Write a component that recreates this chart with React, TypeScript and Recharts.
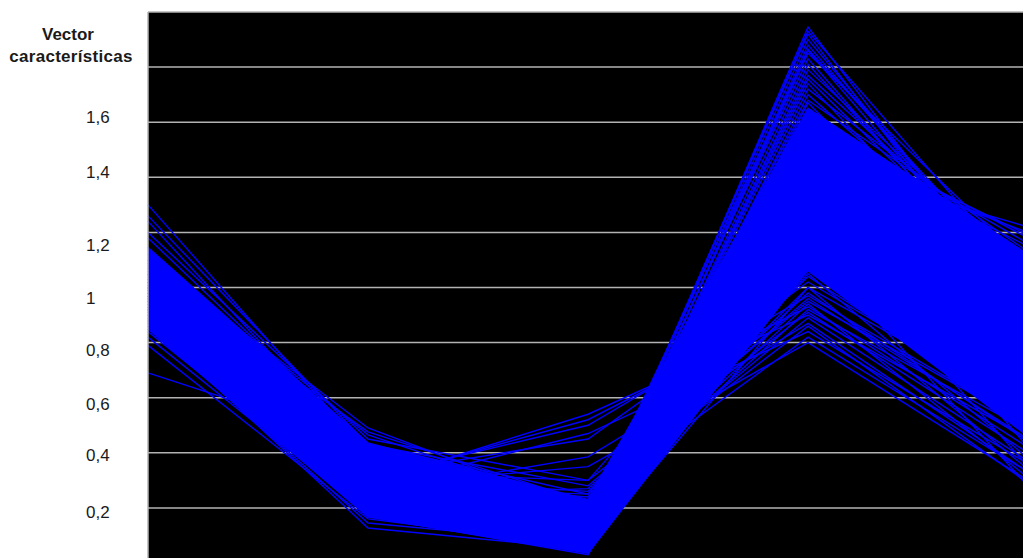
import { ComposedChart, Line, Area, XAxis, YAxis, CartesianGrid } from "recharts";

// five feature positions of the vector
const positions = [0, 1, 2, 3, 4];
const yTicks = [0, 0.2, 0.4, 0.6, 0.8, 1, 1.2, 1.4, 1.6, 1.8, 2];
const labelled = [0.2, 0.4, 0.6, 0.8, 1, 1.2, 1.4, 1.6];

// dense core of the bundle (where the lines overlap completely)
const coreLow = [0.85, 0.167, 0.036, 1.065, 0.46];
const coreHigh = [1.145, 0.436, 0.23, 1.65, 1.12];

// individual vectors that stand out of the core
const vectors: number[][] = [
  [1.3, 0.4, 0.2, 1.4, 0.8],
  [1.26, 0.43, 0.25, 1.3, 0.75],
  [1.24, 0.38, 0.18, 1.55, 0.95],
  [1.2, 0.45, 0.3, 1.2, 0.7],
  [1.18, 0.42, 0.22, 1.6, 1.0],
  [0.84, 0.2, 0.1, 1.1, 0.6],
  [0.82, 0.18, 0.08, 1.25, 0.65],
  [0.79, 0.16, 0.06, 1.0, 0.55],
  [0.69, 0.43, 0.28, 0.95, 0.5],
  [1.1, 0.49, 0.19, 1.45, 0.85],
  [1.05, 0.476, 0.22, 1.35, 0.8],
  [1.12, 0.465, 0.2, 1.5, 1.05],
  [0.95, 0.29, 0.54, 0.9, 0.45],
  [0.92, 0.3, 0.52, 0.93, 0.42],
  [0.98, 0.31, 0.5, 0.97, 0.5],
  [0.9, 0.27, 0.47, 0.84, 0.36],
  [1.0, 0.32, 0.45, 1.02, 0.55],
  [0.93, 0.25, 0.385, 0.87, 0.33],
  [0.97, 0.28, 0.35, 0.8, 0.3],
  [1.02, 0.33, 0.3, 0.91, 0.4],
  [0.88, 0.24, 0.27, 0.96, 0.45],
  [0.99, 0.26, 0.24, 1.04, 0.52],
  [0.86, 0.145, 0.07, 1.3, 0.75],
  [0.87, 0.127, 0.05, 1.2, 0.7],
  [0.88, 0.17, 0.03, 1.4, 0.9],
  [1.0, 0.25, 0.11, 1.945, 0.9],
  [1.05, 0.3, 0.12, 1.9, 0.95],
  [0.95, 0.22, 0.1, 1.865, 1.0],
  [1.1, 0.35, 0.14, 1.83, 0.92],
  [0.92, 0.2, 0.09, 1.79, 1.05],
  [1.02, 0.28, 0.13, 1.756, 0.98],
  [0.98, 0.23, 0.15, 1.72, 1.1],
  [1.07, 0.33, 0.11, 1.67, 0.88],
  [1.03, 0.31, 0.16, 1.5, 1.2],
  [0.96, 0.24, 0.12, 1.6, 1.18],
  [1.09, 0.36, 0.17, 1.55, 1.15],
  [0.94, 0.21, 0.1, 1.65, 1.12],
  [0.91, 0.22, 0.08, 1.15, 0.28],
  [1.01, 0.27, 0.14, 1.25, 0.35],
  [0.89, 0.19, 0.06, 1.35, 0.42],
  [1.04, 0.29, 0.13, 1.93, 1.02],
  [0.97, 0.26, 0.1, 1.88, 0.96],
  [1.06, 0.32, 0.12, 1.85, 1.08],
  [0.93, 0.23, 0.11, 1.81, 0.94],
  [1.01, 0.27, 0.14, 1.77, 1.04],
  [1.08, 0.34, 0.15, 1.74, 0.9],
  [0.99, 0.25, 0.12, 1.7, 1.0],
  [1.03, 0.3, 0.16, 1.68, 1.13],
  [0.96, 0.24, 0.13, 1.92, 0.88],
  [1.0, 0.28, 0.17, 1.86, 0.93],
  [0.9, 0.26, 0.2, 1.05, 0.38],
  [0.94, 0.29, 0.22, 1.0, 0.34],
  [0.97, 0.31, 0.26, 0.98, 0.44],
  [0.92, 0.27, 0.21, 0.94, 0.31],
  [1.0, 0.3, 0.23, 0.89, 0.37],
  [0.95, 0.28, 0.25, 0.86, 0.29],
  [0.98, 0.3, 0.24, 0.82, 0.33],
  [0.93, 0.26, 0.22, 1.06, 0.47],
  [0.96, 0.27, 0.2, 0.92, 0.48],
  [1.02, 0.3, 0.15, 1.45, 1.22],
  [0.97, 0.25, 0.13, 1.62, 1.16],
  [1.05, 0.33, 0.16, 1.58, 1.19],
];

const data = positions.map((p, i) => {
  const row: Record<string, any> = { pos: p, core: [coreLow[i], coreHigh[i]] };
  vectors.forEach((v, k) => (row[`v${k}`] = v[i]));
  return row;
});

// the labels in the original sit a little off their grid lines
const labelShift: Record<string, number> = {
  "1.6": -5, "1.4": -5, "1.2": 13, "1": 10.5, "0.8": 7, "0.6": 6.5, "0.4": 2.5, "0.2": 4.5,
};

function YTick({ y, payload }: any) {
  const v = payload.value;
  if (!labelled.includes(v)) return null;
  return (
    <text x={86} y={y + (labelShift[String(v)] ?? 0)} dy="0.355em" textAnchor="start"
      fill="#1a1a1a" fontSize={17} fontFamily="Liberation Sans, Arial, sans-serif">
      {String(v).replace(".", ",")}
    </text>
  );
}

export default function App() {
  return (
    <div style={{ position: "fixed", left: 0, top: 0, width: 1023, height: 558, overflow: "hidden", background: "#fff" }}>
      <div style={{ position: "absolute", left: 0, top: 24, width: 142, textAlign: "center", fontFamily: "Liberation Sans, Arial, sans-serif", fontWeight: "bold", fontSize: 17, lineHeight: "22px", color: "#1a1a1a" }}>
        <div style={{ marginLeft: -6 }}>Vector</div>
        <div style={{ letterSpacing: 0.3 }}>características</div>
      </div>
      <ComposedChart width={1038} height={573} data={data} margin={{ top: 12, right: 10, bottom: 10, left: 0 }}>
        <CartesianGrid vertical={false} stroke="#b3b3b3" strokeWidth={1.5} fill="#000" fillOpacity={1} />
        <XAxis dataKey="pos" type="number" domain={[0, 4]} hide />
        <YAxis width={148} domain={[0, 2]} ticks={yTicks} interval={0} tick={<YTick />}
          axisLine={{ stroke: "#b3b3b3", strokeWidth: 1.5 }} tickLine={false} />
        <Area dataKey="core" type="linear" stroke="#0000ff" strokeWidth={1.5} fill="#0000ff" fillOpacity={1} isAnimationActive={false} />
        {vectors.map((_, k) => (
          <Line key={k} dataKey={`v${k}`} type="linear" stroke="#0000ff" strokeWidth={1.4}
            dot={false} activeDot={false} isAnimationActive={false} />
        ))}
      </ComposedChart>
    </div>
  );
}
